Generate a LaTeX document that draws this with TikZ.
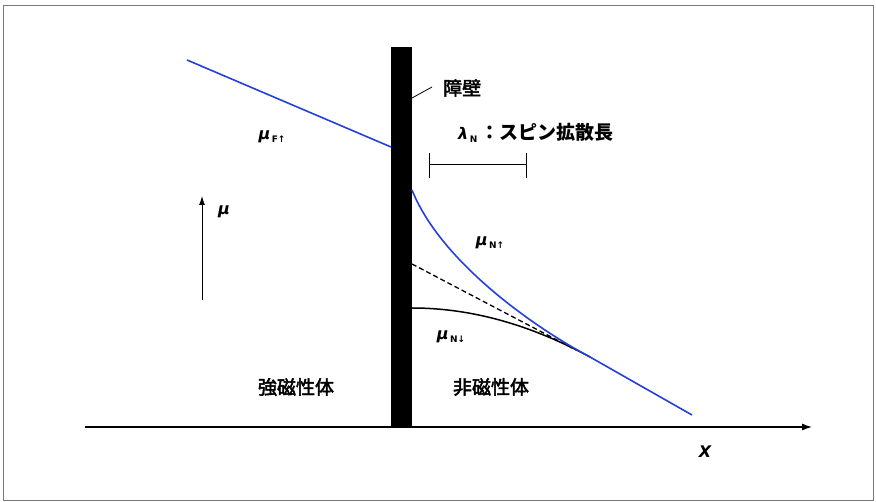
\documentclass[tikz,border=0pt]{standalone}
\usepackage{fontspec}
\setmainfont{DejaVu Sans}
\newfontfamily\jp[AutoFakeBold=2.5]{Noto Sans CJK JP}
\usetikzlibrary{arrows.meta}
\definecolor{bl}{RGB}{35,65,215}
\definecolor{frame}{RGB}{120,120,120}
\tikzset{
  jplabel/.style={font=\jp\bfseries\fontsize{19}{19}\selectfont, inner sep=0pt},
  mulabel/.style={font=\bfseries\itshape\fontsize{16}{16}\selectfont, inner sep=0pt},
  curve/.style={line width=1.6pt, bl},
  axisline/.style={line width=1.2pt, -{Latex[length=10pt,width=7pt]}},
}
\newcommand{\musub}[1]{\textbf{\textit{μ}}\raisebox{-3pt}{\fontsize{9}{9}\selectfont\bfseries\upshape\,#1}}
\begin{document}
\begin{tikzpicture}[x=1pt,y=-1pt]
\useasboundingbox (0,0) rectangle (876,502);
\draw[frame, line width=0.8pt] (3,5) rectangle (873,500);
% axis
\coordinate (ax0) at (85,427);
\coordinate (ax1) at (812,427);
\draw[axisline] (ax0) -- (ax1);
\node[mulabel] (X) at (705,452) {X};
% barrier
\fill (391,47) rectangle (412,427);
\coordinate (bartop) at (412,98);
\coordinate (barlab) at (432,87);
\draw[line width=0.8pt] (bartop) -- (barlab);
\node[jplabel, anchor=west] (bar) at (443,88) {障壁};
% ferromagnet line
\coordinate (f0) at (187,60);
\coordinate (f1) at (391,147);
\draw[curve] (f0) -- (f1);
\node[mulabel] (muF) at (272,137) {\musub{F↑}};
% lambda label & scale bar
\node[mulabel, anchor=west] (lam) at (458,133) {λ\raisebox{-3pt}{\fontsize{9}{9}\selectfont\bfseries\upshape\,N}\,{\jp\bfseries\fontsize{19}{19}\selectfont ：スピン拡散長}};
\coordinate (s0) at (429,165);
\coordinate (s1) at (526,165);
\draw[line width=1pt] (s0) -- (s1);
\draw[line width=1pt] (429,153) -- (429,178) (526,153) -- (526,178);
% mu axis arrow
\coordinate (m0) at (202,300);
\coordinate (m1) at (202,196);
\draw[line width=0.9pt, -{Latex[length=9pt,width=6pt]}] (m0) -- (m1);
\node[mulabel] (mu) at (224,212) {μ};
% normal metal curves
\coordinate (up0) at (412,190);
\coordinate (dn0) at (412,308);
\coordinate (da0) at (412,264);
\coordinate (meet) at (590,357);
\coordinate (end) at (692,415);
\draw[line width=1.3pt, dash pattern=on 5pt off 3pt] (da0) -- (576,350);
\draw[line width=1.5pt] (dn0) .. controls (480,308) and (540,330) .. (meet);
\draw[curve] (up0) .. controls (440,260) and (530,325) .. (meet) -- (end);
\node[mulabel] (muNu) at (490,243) {\musub{N↑}};
\node[mulabel] (muNd) at (451,337) {\musub{N↓}};
% region labels
\node[jplabel] (ferro) at (296,387) {強磁性体};
\node[jplabel] (nonmag) at (491,387) {非磁性体};
\end{tikzpicture}
\end{document}
